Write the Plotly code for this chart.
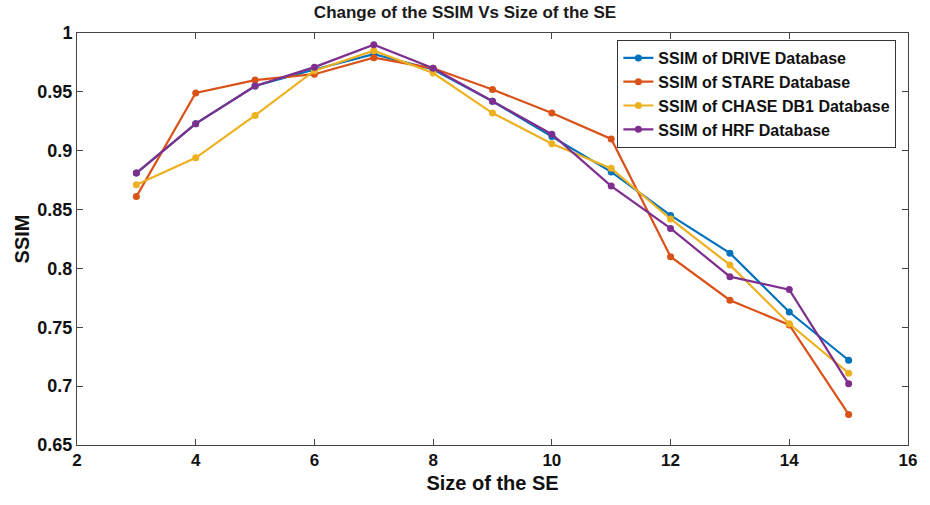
import plotly.graph_objects as go

se_size = [3, 4, 5, 6, 7, 8, 9, 10, 11, 12, 13, 14, 15]
ssim_drive = [0.881, 0.923, 0.955, 0.969, 0.982, 0.969, 0.942, 0.912, 0.882, 0.845, 0.813, 0.763, 0.722]
ssim_stare = [0.861, 0.949, 0.960, 0.965, 0.979, 0.970, 0.952, 0.932, 0.910, 0.810, 0.773, 0.752, 0.676]
ssim_chase = [0.871, 0.894, 0.930, 0.968, 0.985, 0.966, 0.932, 0.906, 0.885, 0.842, 0.803, 0.753, 0.711]
ssim_hrf = [0.881, 0.923, 0.955, 0.971, 0.990, 0.970, 0.942, 0.914, 0.870, 0.834, 0.793, 0.782, 0.702]

series = [
    ("SSIM of DRIVE Database", ssim_drive, "#0072BD"),
    ("SSIM of STARE Database", ssim_stare, "#D95319"),
    ("SSIM of CHASE DB1 Database", ssim_chase, "#EDB120"),
    ("SSIM of HRF Database", ssim_hrf, "#7E2F8E"),
]

x_ticks = [2, 4, 6, 8, 10, 12, 14, 16]
y_ticks = [0.65, 0.7, 0.75, 0.8, 0.85, 0.9, 0.95, 1]
y_ticklabels = ["0.65", "0.7", "0.75", "0.8", "0.85", "0.9", "0.95", "1"]

font_family = "Liberation Sans, Arial, sans-serif"

fig = go.Figure()
for name, vals, color in series:
    fig.add_trace(go.Scatter(
        x=se_size, y=vals, name=name, mode="lines+markers",
        line=dict(color=color, width=2.2),
        marker=dict(color=color, size=7),
    ))

fig.update_layout(
    width=930, height=505,
    margin=dict(l=77, r=22, t=33, b=60),
    paper_bgcolor="white", plot_bgcolor="white",
    font=dict(family=font_family, color="#000000"),
    title=dict(text="Change of the SSIM Vs Size of the SE",
               x=0.5, xanchor="center", y=0.976, yanchor="middle",
               font=dict(size=17, family=font_family, color="#1a1a1a", weight="bold")),
    legend=dict(x=0.986, y=0.983, xanchor="right", yanchor="top",
                bordercolor="#333", borderwidth=1, bgcolor="white",
                font=dict(size=16, family=font_family, color="#111", weight="bold"),
                tracegroupgap=0, itemwidth=30),
    showlegend=True,
)

fig.update_xaxes(
    range=[2, 16], tickvals=x_ticks,
    ticktext=[str(v) for v in x_ticks],
    ticks="inside", ticklen=6, tickcolor="#444",
    showline=True, linecolor="#444", linewidth=1, mirror="ticks",
    showgrid=False, zeroline=False,
    tickfont=dict(size=17, family=font_family, color="#111", weight="bold"),
    title=dict(text="Size of the SE", standoff=6,
               font=dict(size=20, family=font_family, color="#111", weight="bold")),
)
fig.update_yaxes(
    range=[0.65, 1], tickvals=y_ticks,
    ticktext=y_ticklabels,
    ticks="inside", ticklen=6, tickcolor="#444",
    showline=True, linecolor="#444", linewidth=1, mirror="ticks",
    showgrid=False, zeroline=False,
    tickfont=dict(size=18, family=font_family, color="#111", weight="bold"),
    title=dict(text="SSIM", standoff=2,
               font=dict(size=20, family=font_family, color="#111", weight="bold")),
)

fig.write_html("out.html")
